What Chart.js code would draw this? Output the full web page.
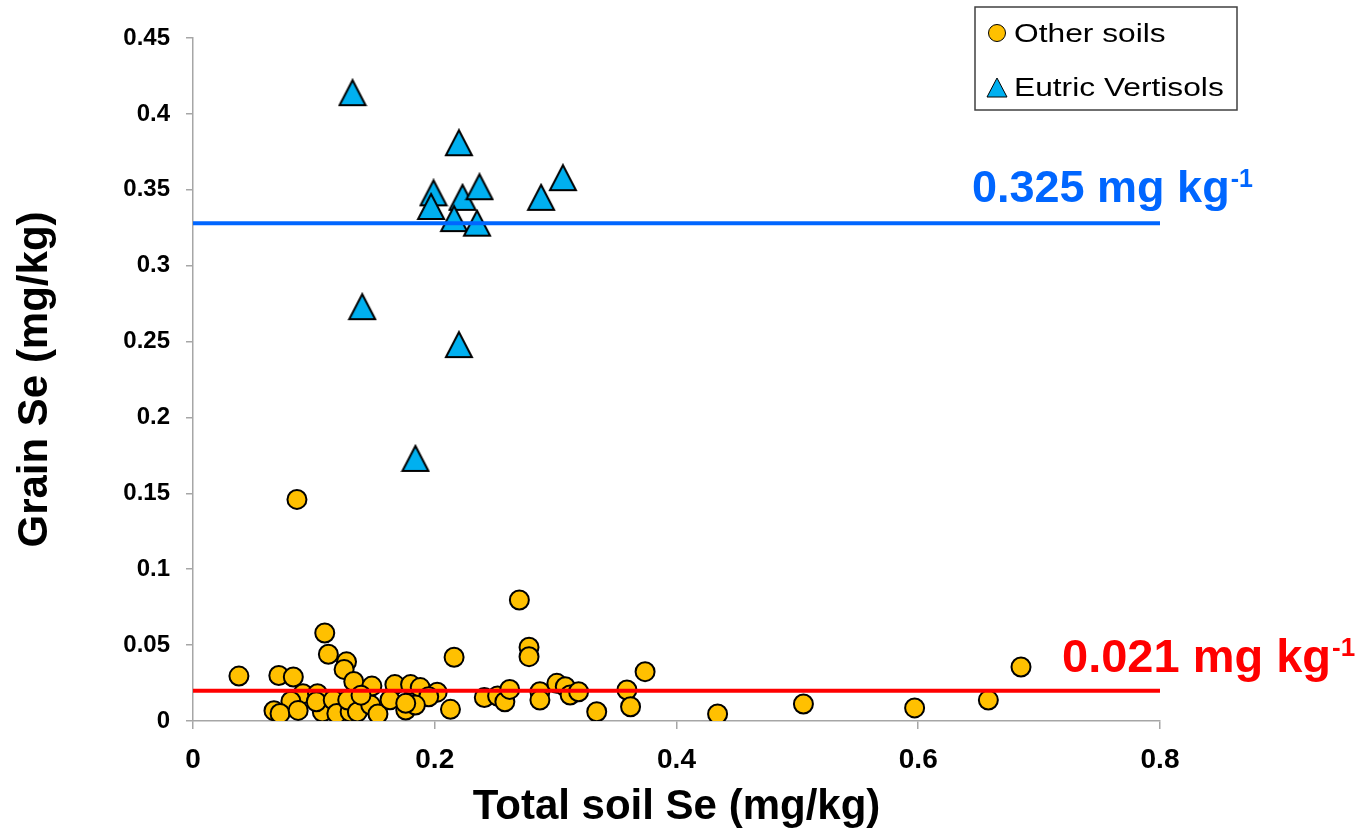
<!DOCTYPE html>
<html>
<head>
<meta charset="utf-8">
<title>Grain Se vs total soil Se</title>
<script src="https://cdn.jsdelivr.net/npm/chart.js@4.4.1/dist/chart.umd.min.js"></script>
<style>
  html, body { margin: 0; padding: 0; background: #fff; }
  #wrap { width: 1368px; height: 832px; }
</style>
</head>
<body>
<div id="wrap"><canvas id="seChart"></canvas></div>
<script>
// --- data ---
// other soils (yellow circles)
const otherX = [0.038, 0.071, 0.083, 0.086, 0.109, 0.112, 0.127, 0.125, 0.133, 0.148,
                0.167, 0.180, 0.188, 0.202, 0.195, 0.216, 0.241, 0.091, 0.103, 0.081,
                0.067, 0.072, 0.087, 0.107, 0.102, 0.116, 0.119, 0.130, 0.128, 0.136,
                0.147, 0.153, 0.163, 0.176, 0.184, 0.176, 0.213, 0.139, 0.270, 0.278,
                0.278, 0.252, 0.258, 0.262, 0.287, 0.287, 0.301, 0.308, 0.312, 0.319,
                0.334, 0.359, 0.362, 0.374, 0.434, 0.505, 0.597, 0.658, 0.685];
const otherY = [0.0296, 0.030, 0.029, 0.146, 0.058, 0.044, 0.039, 0.034, 0.026, 0.023,
                0.024, 0.024, 0.022, 0.019, 0.016, 0.042, 0.0155, 0.018, 0.018, 0.013,
                0.0068, 0.005, 0.007, 0.006, 0.0127, 0.0138, 0.005, 0.006, 0.0138, 0.006,
                0.0105, 0.0046, 0.014, 0.0072, 0.0105, 0.0117, 0.0077, 0.017, 0.0797, 0.0486,
                0.0424, 0.0165, 0.0127, 0.0208, 0.0193, 0.0138, 0.0248, 0.0226, 0.0171, 0.0193,
                0.0061, 0.0204, 0.0094, 0.0325, 0.0046, 0.0112, 0.0086, 0.0138, 0.0356];

// Eutric Vertisols (blue triangles)
const vertX = [0.132, 0.220, 0.199, 0.197, 0.223, 0.237, 0.216, 0.235, 0.288, 0.306, 0.140, 0.220, 0.184];
const vertY = [0.414, 0.381, 0.348, 0.339, 0.345, 0.352, 0.331, 0.328, 0.345, 0.358, 0.273, 0.248, 0.173];

const seriesNames = ['Other soils', 'Eutric Vertisols'];

// horizontal mean lines
const lineEnds = [0, 0.8];
const vertMean = 0.328;
const otherMean = 0.02;
const vertMeanText = '0.325 mg kg';
const otherMeanText = '0.021 mg kg';
const unitSup = '-1';

const xTickVals = [0, 0.2, 0.4, 0.6, 0.8];
const yTickVals = [0, 0.05, 0.1, 0.15, 0.2, 0.25, 0.3, 0.35, 0.4, 0.45];

const FONT = "'Liberation Sans', Arial, sans-serif";
const YELLOW = '#FFC000';
const CYAN = '#00B0F0';
const AXIS_GREY = '#a6a6a6';

// triangle marker, centred on its bounding box like in Excel
function makeTriangle(w, h, lw) {
	const c = document.createElement('canvas');
	c.width = w; c.height = h;
	const g = c.getContext('2d');
	g.beginPath();
	g.moveTo(w / 2, lw);
	g.lineTo(w - lw, h - lw);
	g.lineTo(lw, h - lw);
	g.closePath();
	g.fillStyle = CYAN;
	g.fill();
	g.lineWidth = lw;
	g.strokeStyle = '#000';
	g.stroke();
	return c;
}
const triMarker = makeTriangle(30, 29, 2);

function toPoints(xs, ys) {
	return xs.map((x, i) => ({ x: x, y: ys[i] }));
}

// plain number labels (0.4 not 0.40)
const fmt = v => String(+Number(v).toFixed(3));

// legend box + line labels
const extrasPlugin = {
	id: 'extras',
	afterDraw(chart) {
		const ctx = chart.ctx;
		ctx.save();

		// legend
		ctx.fillStyle = '#fff';
		ctx.fillRect(975, 7, 262, 103);
		ctx.strokeStyle = '#404040';
		ctx.lineWidth = 1.5;
		ctx.strokeRect(975, 7, 262, 103);

		ctx.beginPath();
		ctx.arc(997, 33, 8.5, 0, Math.PI * 2);
		ctx.fillStyle = YELLOW;
		ctx.fill();
		ctx.lineWidth = 1;
		ctx.strokeStyle = '#000';
		ctx.stroke();

		ctx.beginPath();
		ctx.moveTo(997, 78);
		ctx.lineTo(1007, 97);
		ctx.lineTo(987, 97);
		ctx.closePath();
		ctx.fillStyle = CYAN;
		ctx.fill();
		ctx.stroke();

		ctx.fillStyle = '#000';
		ctx.font = '26px ' + FONT;
		ctx.textBaseline = 'alphabetic';
		ctx.textAlign = 'left';
		[[seriesNames[0], 42], [seriesNames[1], 96]].forEach(([t, y]) => {
			ctx.save();
			ctx.translate(1014, y);
			ctx.scale(1.22, 1);
			ctx.fillText(t, 0, 0);
			ctx.restore();
		});

		// mean labels with superscript
		function label(text, x, y, size, color) {
			ctx.fillStyle = color;
			ctx.font = 'bold ' + size + 'px ' + FONT;
			ctx.fillText(text, x, y);
			const w = ctx.measureText(text).width;
			ctx.font = 'bold ' + Math.round(size * 0.56) + 'px ' + FONT;
			ctx.fillText(unitSup, x + w + 1, y - size * 0.33);
		}
		label(vertMeanText, 972, 202, 45, '#0066ff');
		label(otherMeanText, 1062, 672, 47, '#ff0000');

		ctx.restore();
	}
};

const ctx = document.getElementById('seChart').getContext('2d');
const seChart = new Chart(ctx, {
	type: 'scatter',
	data: {
		datasets: [
			{ type: 'line', label: 'vert mean', data: toPoints(lineEnds, [vertMean, vertMean]),
			  borderColor: '#0066ff', borderWidth: 4, pointRadius: 0, fill: false, order: 0 },
			{ type: 'line', label: 'other mean', data: toPoints(lineEnds, [otherMean, otherMean]),
			  borderColor: '#ff0000', borderWidth: 4, pointRadius: 0, fill: false, order: 0 },
			{ label: seriesNames[1], data: toPoints(vertX, vertY), pointStyle: triMarker, order: 1 },
			{ label: seriesNames[0], data: toPoints(otherX, otherY), pointStyle: 'circle',
			  pointRadius: 9.5, backgroundColor: YELLOW, borderColor: '#000', borderWidth: 2, order: 2 }
		]
	},
	options: {
		responsive: true,
		maintainAspectRatio: false,
		animation: false,
		events: [],
		layout: { padding: { left: 0, top: 38, right: 208, bottom: 0 } },
		plugins: {
			legend: { display: false },
			tooltip: { enabled: false }
		},
		scales: {
			x: {
				type: 'linear',
				min: 0,
				max: 0.8,
				afterBuildTicks: s => { s.ticks = xTickVals.map(v => ({ value: v })); },
				afterFit: s => { s.height = 111; },
				grid: { drawOnChartArea: false, drawTicks: true, tickLength: 8, color: AXIS_GREY, lineWidth: 1.5 },
				border: { display: true, color: AXIS_GREY, width: 1.5 },
				ticks: { color: '#000', padding: 14, callback: fmt,
				         font: { family: FONT, size: 28, weight: 'bold' } },
				title: { display: true, text: 'Total soil Se (mg/kg)', color: '#000',
				         padding: { top: 0, bottom: 0 },
				         font: { family: FONT, size: 42, weight: 'bold', lineHeight: 1.15 } }
			},
			y: {
				type: 'linear',
				min: 0,
				max: 0.45,
				afterBuildTicks: s => { s.ticks = yTickVals.map(v => ({ value: v })); },
				afterFit: s => { s.width = 193; },
				grid: { drawOnChartArea: false, drawTicks: true, tickLength: 7, color: AXIS_GREY, lineWidth: 1.5 },
				border: { display: true, color: AXIS_GREY, width: 1.5 },
				ticks: { color: '#000', padding: 16, callback: fmt,
				         font: { family: FONT, size: 24, weight: 'bold' } },
				title: { display: true, text: 'Grain Se (mg/kg)', color: '#000',
				         padding: { top: 10, bottom: 0 },
				         font: { family: FONT, size: 42, weight: 'bold', lineHeight: 1.2 } }
			}
		}
	},
	plugins: [extrasPlugin]
});
</script>
</body>
</html>
